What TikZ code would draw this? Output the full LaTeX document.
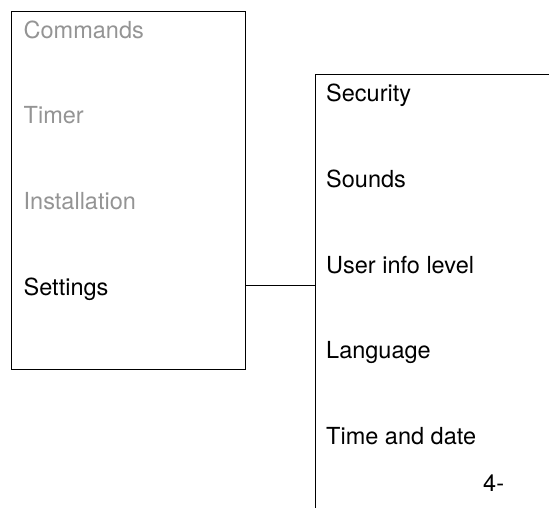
\documentclass[tikz,border=0pt]{standalone}
\usepackage{fontspec}
\setmainfont{TeX Gyre Heros}
\usetikzlibrary{positioning}

\begin{document}
\begin{tikzpicture}[
  x=1pt, y=-1pt,
  node distance=64.3pt,
  item/.style={inner sep=0pt, text height=17pt, text depth=4pt, anchor=base west, font=\fontsize{23.5}{28}\selectfont},
  dim/.style={item, text=black!42},
  panel/.style={draw, line width=1pt}
]
  \useasboundingbox (0,0) rectangle (549,508);
  % main menu
  \node[panel, anchor=north west, inner sep=0pt, minimum width=234pt, minimum height=358pt] (menu) at (11,11) {};
  \node[dim] (commands) at (23.5,38.3) {Commands};
  \node[dim, below=of commands.south west, anchor=north west] (timer) {Timer};
  \node[dim, below=of timer.south west, anchor=north west] (install) {Installation};
  \node[item, below=of install.south west, anchor=north west] (settings) {Settings};
  % settings submenu
  \coordinate (subcorner) at (315,75);
  \coordinate (link) at (315,285);
  \draw[panel] (549,75) -- (subcorner) -- (315,508);
  \node[item] (security) at (326,101.7) {Security};
  \node[item, below=of security.south west, anchor=north west] (sounds) {Sounds};
  \node[item, below=of sounds.south west, anchor=north west] (userinfo) {User info level};
  \node[item, below=of userinfo.south west, anchor=north west] (language) {Language};
  \node[item, below=of language.south west, anchor=north west] (timedate) {Time and date};
  \node[item] (pagenum) at (483,491.7) {4-};
  \draw[panel] (menu.east |- link) -- (link);
\end{tikzpicture}
\end{document}
